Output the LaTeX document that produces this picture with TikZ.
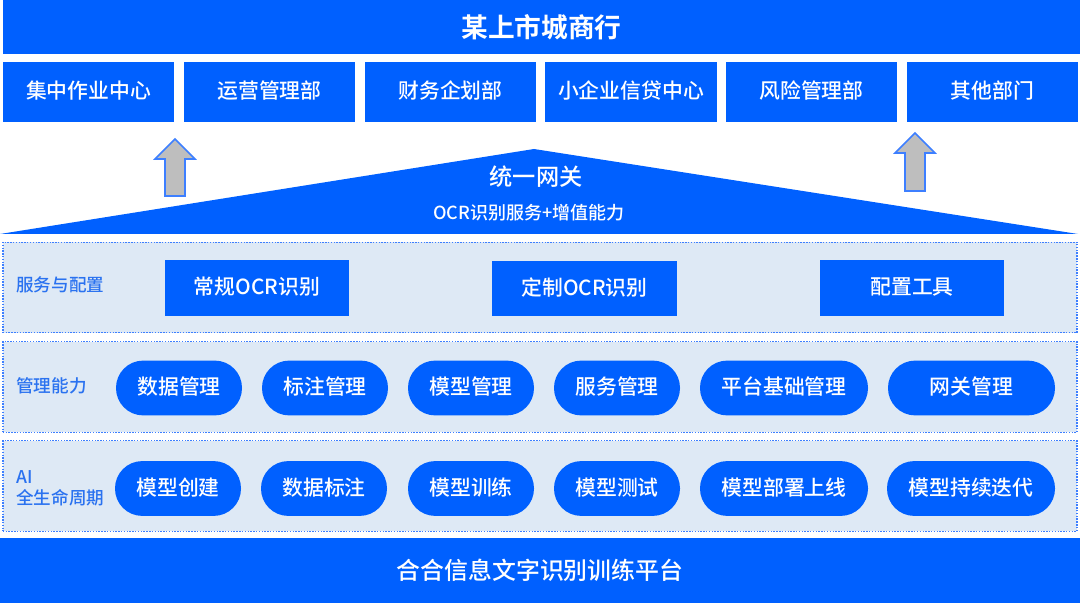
\documentclass[tikz,border=0pt]{standalone}
\usepackage{fontspec}
\setmainfont{Noto Sans CJK SC Medium}
\newfontfamily\heavyfont{Noto Sans CJK SC Bold}
\definecolor{mainblue}{HTML}{0060FF}
\definecolor{panelblue}{HTML}{DEE9F5}
\definecolor{labelblue}{HTML}{2A72F0}
\definecolor{arrowgray}{HTML}{BEBEBE}
\definecolor{arrowline}{HTML}{3D7FFF}
\tikzset{
  bodytext/.style = {text = white, inner sep = 0pt, text height = 13.2pt, text depth = 3.9pt, font = \fontsize{14.8}{18}\selectfont},
  barbox/.style = {fill = mainblue, text = white, inner sep = 0pt, font = \heavyfont\fontsize{19}{22}\selectfont},
  deptbox/.style = {bodytext, fill = mainblue, minimum height = 1.5cm},
  svcbox/.style = {bodytext, fill = mainblue, minimum width = 4.6cm, minimum height = 1.375cm},
  pillbox/.style = {bodytext, fill = mainblue, rounded corners = 0.68cm, minimum height = 1.37cm},
  panelbox/.style = {fill = panelblue, draw = arrowline, densely dotted, line width = 1pt, inner sep = 0pt, minimum width = 26.85cm, minimum height = 2.26cm},
  rowlabel/.style = {text = labelblue, inner sep = 0pt, align = left, anchor = west, font = \fontsize{12.5}{15}\selectfont},
  uparrow/.style = {fill = arrowgray, draw = arrowline, line width = 1.1pt, line join = miter}
}
\begin{document}
\begin{tikzpicture}[x = 0.025cm, y = -0.025cm]
\useasboundingbox (0, 0) rectangle (1080, 603);

% top and bottom bars
\node[barbox, minimum width = 26.925cm, minimum height = 1.35cm] (bank) at (541.5, 27) {某上市城商行};
\node[barbox, minimum width = 27cm, minimum height = 1.6cm, font = \fontsize{17}{20}\selectfont] (platform) at (540, 570.5) {合合信息文字识别训练平台};

% departments
\foreach \i/\cx/\bw/\txt in {1/88.5/171/集中作业中心, 2/269.5/171/运营管理部, 3/450.5/171/财务企划部, 4/631/172/小企业信贷中心, 5/811.5/171/风险管理部, 6/992.5/171/其他部门}
  \node[deptbox, minimum width = \bw*0.025cm] (dept\i) at (\cx, 92) {\txt};

% gateway roof
\fill[mainblue] (0, 234) -- (534, 149) -- (1078, 234) -- cycle;
\node[text = white, inner sep = 0pt, font = \fontsize{16.5}{20}\selectfont] (gateway) at (536, 177) {统一网关};
\node[text = white, inner sep = 0pt, font = \fontsize{12.8}{15}\selectfont] (gatewaysub) at (529, 213) {OCR识别服务+增值能力};

% arrows
\draw[uparrow] (175, 139) -- (195, 159) -- (185, 159) -- (185, 196) -- (165, 196) -- (165, 159) -- (155, 159) -- cycle;
\draw[uparrow] (915, 133) -- (935, 153) -- (925, 153) -- (925, 191) -- (905, 191) -- (905, 153) -- (895, 153) -- cycle;

% panels
\node[panelbox] (panelsvc) at (540, 287.5) {};
\node[panelbox] (panelmgmt) at (540, 387) {};
\node[panelbox] (panelai) at (540, 486) {};

\node[rowlabel] (labelsvc) at (16, 285) {服务与配置};
\node[rowlabel] (labelmgmt) at (16, 386) {管理能力};
\node[rowlabel] (labelai) at (16, 488) {AI\\全生命周期};

% service boxes
\node[svcbox] (svc1) at (257, 288) {常规OCR识别};
\node[svcbox] (svc2) at (584.5, 288.5) {定制OCR识别};
\node[svcbox] (svc3) at (912, 288) {配置工具};

% capability pills
\foreach \i/\cx/\bw/\txt in {1/179/126/数据管理, 2/325/126/标注管理, 3/471/126/模型管理, 4/617/126/服务管理, 5/784/168/平台基础管理, 6/971.5/167/网关管理}
  \node[pillbox, minimum width = \bw*0.025cm] (mgmt\i) at (\cx, 388) {\txt};

% lifecycle pills
\foreach \i/\cx/\bw/\txt in {1/178/126/模型创建, 2/324/126/数据标注, 3/471/126/模型训练, 4/617/126/模型测试, 5/784/168/模型部署上线, 6/971/168/模型持续迭代}
  \node[pillbox, minimum width = \bw*0.025cm] (life\i) at (\cx, 488.5) {\txt};
\end{tikzpicture}
\end{document}
